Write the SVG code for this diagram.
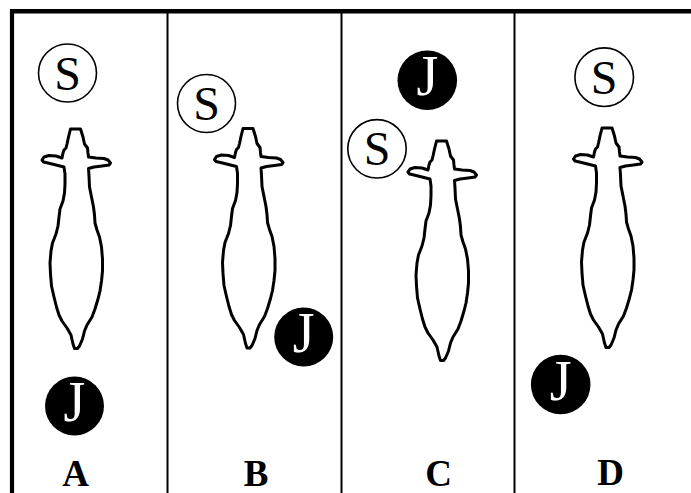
<svg xmlns="http://www.w3.org/2000/svg" width="691" height="493" viewBox="0 0 691 493">
<style>
.frame{stroke:#000;fill:none}
.body{fill:#fff;stroke:#000;stroke-width:3;stroke-linejoin:round}
.s{fill:#fff;stroke:#000;stroke-width:1.6}
.j{fill:#000}
.st{font-family:"Liberation Serif","Times New Roman",serif;font-size:48px;fill:#000;text-anchor:middle}
.jt{font-family:"Liberation Serif","Times New Roman",serif;font-size:56px;fill:#fff;text-anchor:middle}
.lab{font-family:"Liberation Serif","Times New Roman",serif;font-size:37px;font-weight:bold;fill:#000;text-anchor:middle}
</style>
<defs>
<polygon id="animal" points="-5.5,0 4.5,0 7,8 8.5,15 11.5,19 12,24 12.5,28 20,29 28,29.5 32,31 34.5,34 33,36 26,37 18,38 12.5,39.5 13,47 13.5,58 15.5,68 17.5,78 18.5,86 19,94 21,101 23.5,108 25.5,118 26.5,130 26.5,142 25.5,152 24,162 22,170 19,180 16,188 11,196 8.5,202 6.5,210 3.5,217 1.5,219.5 -1.5,219.5 -3,215 -5,206 -9,199 -14,192 -17,186 -19.5,178 -22,168 -24.5,157 -25.5,145 -26,134 -25,122 -23.5,114 -20,105 -18,97 -17,88 -16,80 -13,72 -11.5,64 -11,55 -11,45 -12,38 -20,36 -28,34 -32.5,33 -34,31 -32,28 -27,26.5 -20,27 -14,29 -13,24 -12,21 -10,19 -9,15 -7.5,8"/>
</defs>
<rect width="691" height="493" fill="#fff"/>
<g id="frame">
<line class="frame" x1="10" y1="11.2" x2="691" y2="11.2" stroke-width="4.4"/>
<line class="frame" x1="12" y1="9" x2="12" y2="493" stroke-width="4.2"/>
<line class="frame" x1="167.5" y1="11" x2="167.5" y2="493" stroke-width="2"/>
<line class="frame" x1="341.5" y1="11" x2="341.5" y2="493" stroke-width="2"/>
<line class="frame" x1="514.5" y1="11" x2="514.5" y2="493" stroke-width="2"/>
</g>
<g id="panelA">
<use href="#animal" class="body" transform="translate(76,129)"/>
<circle class="s" cx="67.5" cy="73" r="29"/>
<text class="st" x="67.5" y="89.5">S</text>
<circle class="j" cx="74.5" cy="406" r="29.5"/>
<text class="jt" x="74.5" y="421">J</text>
<text class="lab" x="75.5" y="486">A</text>
</g>
<g id="panelB">
<use href="#animal" class="body" transform="translate(248.5,128.5)"/>
<circle class="s" cx="206.5" cy="103.5" r="29"/>
<text class="st" x="206.5" y="120">S</text>
<circle class="j" cx="303.7" cy="337" r="29.5"/>
<text class="jt" x="303.7" y="352">J</text>
<text class="lab" x="256" y="486">B</text>
</g>
<g id="panelC">
<use href="#animal" class="body" transform="translate(442,141)"/>
<circle class="j" cx="427.3" cy="80.3" r="29.8"/>
<text class="jt" x="427.3" y="95.3">J</text>
<circle class="s" cx="377" cy="148.8" r="29.2"/>
<text class="st" x="377" y="165.3">S</text>
<text class="lab" x="438.7" y="486">C</text>
</g>
<g id="panelD">
<use href="#animal" class="body" transform="translate(607.5,128)"/>
<circle class="s" cx="604.2" cy="77.2" r="29.3"/>
<text class="st" x="604.2" y="93.7">S</text>
<circle class="j" cx="560.7" cy="384.5" r="29.8"/>
<text class="jt" x="560.7" y="399.5">J</text>
<text class="lab" x="610.7" y="485">D</text>
</g>
</svg>
